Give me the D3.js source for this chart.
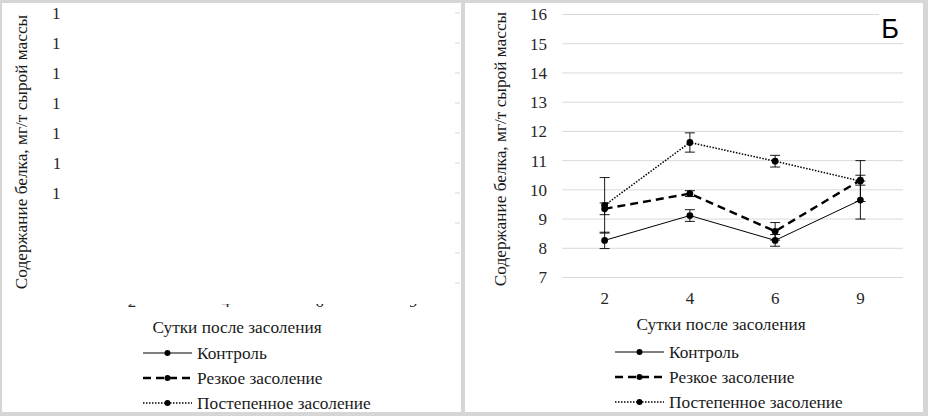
<!DOCTYPE html>
<html>
<head>
<meta charset="utf-8">
<script src="https://cdn.jsdelivr.net/npm/d3@7"></script>
<style>
  body { margin: 0; background: #d6d6d6; }
  svg { display: block; }
  svg text { font-family: 'Liberation Serif', 'Times New Roman', serif; }
  svg text.letter { font-family: 'Liberation Sans', Arial, sans-serif; }
</style>
</head>
<body>
<svg id="chart" width="928" height="416"></svg>
<script>
// Chart data
const days = ['2', '4', '6', '9'];
const yTicks = [7, 8, 9, 10, 11, 12, 13, 14, 15, 16];
const seriesNames = ['Контроль', 'Резкое засоление', 'Постепенное засоление'];

const control = [8.27, 9.12, 8.27, 9.65];
const controlErr = [0.28, 0.2, 0.2, 0.65];
const sharp = [9.35, 9.87, 8.58, 10.33];
const sharpErr = [0.2, 0.1, 0.3, 0.17];
const gradual = [9.47, 11.62, 10.98, 10.3];
const gradualErr = [0.95, 0.33, 0.2, 0.7];

const yTitle = 'Содержание белка,  мг/т сырой массы';
const xTitle = 'Сутки после засоления';

const svg = d3.select('#chart');
const defs = svg.append('defs');

// line styles per series
const styles = [
    { width: 1, dash: null },
    { width: 2.4, dash: '8,5' },
    { width: 1.5, dash: '1.5,1.5' }
];

function addClip(id, x, y, w, h) {
    defs.append('clipPath').attr('id', id)
        .append('rect').attr('x', x).attr('y', y).attr('width', w).attr('height', h);
    return `url(#${id})`;
}

function drawPanel(o) {
    const g = svg.append('g');

    // white panel background
    g.append('rect')
        .attr('x', o.left).attr('y', 3)
        .attr('width', o.right - o.left).attr('height', 409)
        .attr('fill', '#fff');

    const x = d3.scaleBand().domain(days).range([o.x0, o.x1]);
    const y = d3.scaleLinear().domain([7, 16]).range([o.y0, o.y1]);
    const cx = d => x(d) + x.bandwidth() / 2;

    // gridlines
    g.append('g').attr('clip-path', o.gridClip || null)
        .selectAll('line')
        .data(yTicks)
        .join('line')
            .attr('x1', o.x0).attr('x2', o.x1)
            .attr('y1', d => y(d)).attr('y2', d => y(d))
            .attr('stroke', '#d9d9d9')
            .attr('stroke-width', 1)

    // y axis labels
    const yAxis = d3.axisLeft(y).tickValues(yTicks).tickSize(0).tickPadding(o.yPad);
    g.append('g').attr('clip-path', o.yClip || null)
        .append('g')
        .attr('transform', `translate(${o.x0},0)`)
        .call(yAxis)
        .call(a => a.select('.domain').remove())
        .attr('font-family', null).attr('font-size', 17)
        .selectAll('text').attr('fill', '#262626');

    // x axis labels
    const xAxis = d3.axisBottom(x).tickSize(0).tickPadding(o.xPad);
    g.append('g').attr('clip-path', o.xClip || null)
        .append('g')
        .attr('transform', `translate(0,${o.y0})`)
        .call(xAxis)
        .call(a => a.select('.domain').remove())
        .attr('font-family', null).attr('font-size', 17)
        .selectAll('text').attr('fill', '#262626');

    // axis titles
    g.append('text')
        .attr('transform', `translate(${o.yTitleX},${o.yTitleY}) rotate(-90)`)
        .attr('text-anchor', 'middle')
        .attr('font-size', 17.3)
        .attr('fill', '#1a1a1a')
        .text(yTitle);

    g.append('text')
        .attr('x', o.xTitleX).attr('y', o.xTitleY)
        .attr('text-anchor', 'middle')
        .attr('font-size', 17.3)
        .attr('fill', '#1a1a1a')
        .text(xTitle);

    // data series
    if (o.series) {
        const line = d3.line().x((d, i) => cx(days[i])).y(d => y(d));

        o.series.forEach(s => {
            const pts = s.values.map((v, i) => ({ day: days[i], v, e: s.err[i] }));
            const eb = g.append('g').attr('stroke', '#000').attr('stroke-width', 0.9);
            eb.selectAll('.stem').data(pts).join('line').attr('class', 'stem')
                .attr('x1', d => cx(d.day)).attr('x2', d => cx(d.day))
                .attr('y1', d => y(d.v - d.e)).attr('y2', d => y(d.v + d.e));
            eb.selectAll('.capHi').data(pts).join('line').attr('class', 'capHi')
                .attr('x1', d => cx(d.day) - 5).attr('x2', d => cx(d.day) + 5)
                .attr('y1', d => y(d.v + d.e)).attr('y2', d => y(d.v + d.e));
            eb.selectAll('.capLo').data(pts).join('line').attr('class', 'capLo')
                .attr('x1', d => cx(d.day) - 5).attr('x2', d => cx(d.day) + 5)
                .attr('y1', d => y(d.v - d.e)).attr('y2', d => y(d.v - d.e));
        });

        o.series.forEach((s, k) => {
            g.append('path')
                .datum(s.values)
                .attr('d', line)
                .attr('fill', 'none')
                .attr('stroke', '#000')
                .attr('stroke-width', styles[k].width)
                .attr('stroke-dasharray', styles[k].dash);

            g.append('g').selectAll('circle')
                .data(s.values)
                .join('circle')
                    .attr('cx', (d, i) => cx(days[i]))
                    .attr('cy', d => y(d))
                    .attr('r', 3.4)
                    .attr('fill', '#000');
        });
    }

    // panel letter
    if (o.letter) {
        g.append('rect')
            .attr('x', o.x1 - 24).attr('y', 9)
            .attr('width', 26).attr('height', 32)
            .attr('fill', '#fff');
        g.append('text')
            .attr('class', 'letter')
            .attr('x', o.x1 - 13).attr('y', 38)
            .attr('text-anchor', 'middle')
            .attr('font-size', 27)
            .attr('fill', '#000')
            .text(o.letter);
    }

    // legend
    const leg = g.append('g');
    seriesNames.forEach((name, k) => {
        const ly = o.legY + k * 25;
        leg.append('line')
            .attr('x1', o.legX).attr('x2', o.legX + 49)
            .attr('y1', ly).attr('y2', ly)
            .attr('stroke', '#000')
            .attr('stroke-width', styles[k].width)
            .attr('stroke-dasharray', styles[k].dash);
        leg.append('circle')
            .attr('cx', o.legX + 24.5).attr('cy', ly)
            .attr('r', 3).attr('fill', '#000');
        leg.append('text')
            .attr('x', o.legX + 54).attr('y', ly + 6)
            .attr('font-size', 17.3)
            .attr('fill', '#1a1a1a')
            .text(name);
    });
}

// Panel A (left) - cropped, only fragments visible
drawPanel({
    left: 2, right: 461,
    x0: 85, x1: 460, y0: 283, y1: 13,
    yPad: 16, xPad: 12,
    yClip: addClip('a-y', 0, 0, 60, 416),
    xClip: addClip('a-x', 0, 304, 461, 20),
    gridClip: addClip('a-grid', 455, 0, 6, 416),
    yTitleX: 27, yTitleY: 152,
    xTitleX: 237, xTitleY: 333,
    legX: 143, legY: 353,
    series: null
});

// Panel Б (right)
drawPanel({
    left: 465, right: 923,
    x0: 562, x1: 903, y0: 277.5, y1: 14.5,
    yPad: 15, xPad: 14.4,
    yTitleX: 506, yTitleY: 149,
    xTitleX: 721, xTitleY: 330,
    legX: 615, legY: 352,
    letter: 'Б',
    series: [
        { values: control, err: controlErr },
        { values: sharp, err: sharpErr },
        { values: gradual, err: gradualErr }
    ]
});
</script>
</body>
</html>
